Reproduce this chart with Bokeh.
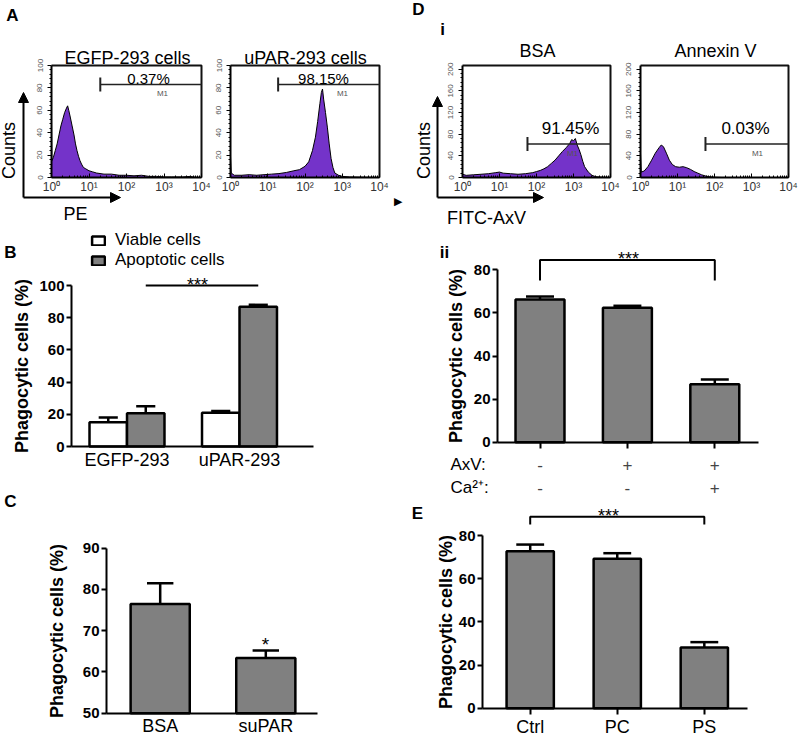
import math
from bokeh.plotting import figure
from bokeh.models import (FixedTicker, Label, Arrow, NormalHead, Legend, LegendItem, Range1d,
                          LinearAxis, LogAxis, LogScale, LinearScale)
from bokeh.embed import file_html
from bokeh.resources import INLINE

FONT = "Liberation Sans"
PURPLE = "#7433C9"
GREY = "#808080"

# ---------------- data ----------------
# Flow cytometry histograms: log10 fluorescence vs. counts
egfp_log = [0.00, 0.01, 0.05, 0.10, 0.15, 0.20, 0.25, 0.30, 0.35, 0.40, 0.43, 0.46, 0.50, 0.55,
            0.60, 0.64, 0.68, 0.72, 0.76, 0.80, 0.85, 0.90, 1.00, 1.10, 1.20, 1.40, 1.60, 1.80,
            2.00, 2.20, 2.40, 2.60, 2.80, 3.00, 3.20, 3.50, 3.70, 3.80, 4.00]
egfp_cnt = [52, 15, 18, 24, 30, 38, 46, 52, 58, 62, 64, 60, 54, 46,
            38, 30, 24, 19, 15, 12, 9, 8, 6, 5, 4, 3, 3, 2,
            2, 1.5, 2, 1, 1, 0.5, 0.5, 0.5, 1, 0.3, 0]
upar_log = [0.00, 0.02, 0.10, 0.30, 0.50, 0.70, 0.90, 1.10, 1.30, 1.50, 1.70, 1.85, 2.00, 2.10,
            2.20, 2.28, 2.34, 2.40, 2.44, 2.47, 2.50, 2.55, 2.60, 2.65, 2.70, 2.75, 2.80, 2.90,
            3.00, 3.20, 3.50, 4.00]
upar_cnt = [19, 4, 2, 2, 2.5, 2, 2.5, 3, 3.5, 4.5, 6, 7, 10, 14,
            24, 36, 50, 66, 76, 79, 70, 58, 45, 30, 17, 9, 4, 2,
            1, 0.5, 0.3, 0]
bsa_log = [0.00, 0.10, 0.30, 0.50, 0.70, 0.90, 1.00, 1.10, 1.30, 1.50, 1.70, 1.90, 2.00, 2.10,
           2.20, 2.30, 2.40, 2.50, 2.60, 2.70, 2.80, 2.90, 2.95, 3.00, 3.05, 3.10, 3.15, 3.20,
           3.25, 3.30, 3.40, 3.50, 3.60, 3.80, 4.00]
bsa_cnt = [6, 4, 5, 6, 7, 9, 10, 8, 7, 6, 7, 9, 11, 13,
           16, 20, 26, 32, 40, 48, 55, 63, 70, 68, 72, 60, 52, 42,
           30, 20, 10, 4, 1.5, 0.5, 0]
axv_log = [0.00, 0.02, 0.10, 0.20, 0.30, 0.40, 0.50, 0.56, 0.62, 0.70, 0.78, 0.86, 0.95, 1.05,
           1.15, 1.25, 1.35, 1.45, 1.55, 1.65, 1.75, 1.85, 2.00, 2.20, 4.00]
axv_cnt = [45, 10, 12, 20, 32, 45, 55, 60, 57, 45, 32, 24, 20, 19,
           20, 18, 15, 11, 8, 5, 3, 1.5, 0.5, 0, 0]

# M1 gates: (start fluorescence, level in counts)
gate_egfp = (20.0, 83)
gate_upar = (19.0, 83)
gate_bsa = (57.0, 62)
gate_axv = (57.0, 62)
pct_egfp, pct_upar, pct_bsa, pct_axv = "0.37%", "98.15%", "91.45%", "0.03%"

# B: phagocytosis of viable / apoptotic cells
b_groups = ["EGFP-293", "uPAR-293"]
b_viable = [15.0, 21.0]
b_viable_err = [3.0, 1.0]
b_apopt = [20.7, 86.8]
b_apopt_err = [4.3, 1.2]
b_sig_level = 100

# C
c_groups = ["BSA", "suPAR"]
c_vals = [76.5, 63.4]
c_err = [5.0, 1.8]

# D ii
d_vals = [66.2, 62.4, 26.9]
d_err = [1.4, 0.9, 2.2]
d_axv = ["-", "+", "+"]
d_ca = ["-", "-", "+"]
d_sig = (84.6, 75.0)

# E
e_groups = ["Ctrl", "PC", "PS"]
e_vals = [72.7, 69.2, 28.1]
e_err = [3.1, 2.6, 2.5]
e_sig = (88.7, 85.1)

# ---------------- canvas ----------------
W, H = 800, 740
p = figure(width=W, height=H, x_range=Range1d(0, W), y_range=Range1d(H, 0),
           x_axis_location=None, y_axis_location=None, min_border=0, title=None,
           output_backend="svg", toolbar_location=None)
p.outline_line_color = None
p.grid.visible = False
p.background_fill_color = "white"
p.border_fill_color = "white"

xr, yr, xs_ = {}, {}, {}


def panel(name, L, R, x0, x1, Bpx, Tpx, y0, y1, logx=False):
    """Register data ranges for a panel: (L -> x0, R -> x1), (Bpx -> y0, Tpx -> y1)."""
    if logx:
        a, b = math.log10(x0), math.log10(x1)
        s = (b - a) / (R - L)
        xr[name + "x"] = Range1d(10 ** (a - L * s), 10 ** (a + (W - L) * s))
        xs_[name + "x"] = LogScale()
    else:
        s = (x1 - x0) / (R - L)
        xr[name + "x"] = Range1d(x0 - L * s, x0 + (W - L) * s)
        xs_[name + "x"] = LinearScale()
    t = (y1 - y0) / (Bpx - Tpx)
    yr[name + "y"] = Range1d(y0 - (H - Bpx) * t, y0 + Bpx * t)
    return dict(x_range_name=name + "x", y_range_name=name + "y")


def lab(px, py, text, size, bold=False, align="center", angle=0.0, color="black"):
    p.add_layout(Label(x=px, y=py, text=text, text_font=FONT, text_font_size=f"{size}px",
                       text_font_style="bold" if bold else "normal", text_align=align,
                       text_baseline="middle", angle=angle, text_color=color))


def arrow(x0, y0, x1, y1):
    p.add_layout(Arrow(end=NormalHead(size=10, fill_color="black", line_color="black", line_width=1),
                       x_start=x0, y_start=y0, x_end=x1, y_end=y1, line_color="black", line_width=2))


DECADES = [1, 10, 100, 1000, 10000]
LOG_MINOR = [k * 10 ** d for d in range(4) for k in range(2, 10)]
SUP = {1: "10\u2070", 10: "10\u00b9", 100: "10\u00b2", 1000: "10\u00b3", 10000: "10\u2074"}


def hist(name, L, R, ymax, yticks, yminor, logs, cnts, gate):
    rn = panel(name, L, R, 1, 1e4, 177, 65, 0, ymax, logx=True)
    xs = [10 ** e for e in logs]
    p.varea(x=xs, y1=[0] * len(xs), y2=cnts, fill_color=PURPLE, **rn)
    p.line(x=xs, y=cnts, line_color="black", line_width=1, **rn)
    # box around the histogram (top and right edges of the plot area)
    p.line(x=[1, 1e4, 1e4], y=[ymax, ymax, 0], line_color="#111111", line_width=2, **rn)
    xa = LogAxis(fixed_location=0, bounds=(1, 1e4), **rn)
    xa.ticker = FixedTicker(ticks=DECADES, minor_ticks=LOG_MINOR)
    xa.major_label_overrides = SUP
    xa.major_label_text_font = FONT
    xa.major_label_text_font_size = "12px"
    xa.major_label_text_color = "#333333"
    xa.major_label_standoff = 2
    xa.major_tick_in, xa.major_tick_out = 4, 0
    xa.minor_tick_in, xa.minor_tick_out = 2, 0
    xa.axis_line_width = 2
    p.add_layout(xa, "below")
    ya = LinearAxis(fixed_location=1, bounds=(0, ymax), **rn)
    ya.ticker = FixedTicker(ticks=yticks, minor_ticks=yminor)
    ya.major_label_orientation = "vertical"
    ya.major_label_text_font = FONT
    ya.major_label_text_font_size = "8px"
    ya.major_label_text_color = "#555555"
    ya.major_label_standoff = 5
    ya.major_tick_in, ya.major_tick_out = 0, 4
    ya.minor_tick_in, ya.minor_tick_out = 0, 2
    ya.axis_line_width = 2
    p.add_layout(ya, "left")
    gx, gy = gate
    p.segment(x0=[gx], y0=[gy], x1=[1e4], y1=[gy], line_color="#222222", line_width=1.5, **rn)
    dy = 7 * ymax / 112
    p.segment(x0=[gx], y0=[gy - dy], x1=[gx], y1=[gy + dy], line_color="#222222", line_width=2, **rn)


# ---------------- panel A ----------------
hist("A1", 51, 201, 100, [0, 20, 40, 60, 80, 100], list(range(4, 100, 4)), egfp_log, egfp_cnt, gate_egfp)
hist("A2", 230, 379, 100, [0, 20, 40, 60, 80, 100], list(range(4, 100, 4)), upar_log, upar_cnt, gate_upar)
lab(12, 15, "A", 17, bold=True)
lab(127, 57, "EGFP-293 cells", 18)
lab(148, 78, pct_egfp, 15)
lab(162, 93, "M1", 8, color="#555555")
lab(8, 150, "Counts", 18, angle=math.pi / 2)
lab(75, 213, "PE", 18)
arrow(23, 197, 23, 92)
arrow(23, 197, 120, 197)
lab(305, 57, "uPAR-293 cells", 18)
lab(323, 78, pct_upar, 15)
lab(342, 93, "M1", 8, color="#555555")
lab(397, 200, "\u25b6", 11)

# ---------------- panel D i ----------------
hist("D1", 462, 610, 207, [0, 40, 80, 120, 160, 200], list(range(8, 207, 8)), bsa_log, bsa_cnt, gate_bsa)
hist("D2", 640, 788, 207, [0, 40, 80, 120, 160, 200], list(range(8, 207, 8)), axv_log, axv_cnt, gate_axv)
lab(418, 9, "D", 17, bold=True)
lab(442, 29, "i", 17, bold=True)
lab(537, 50, "BSA", 18)
lab(570, 128, pct_bsa, 17)
lab(572, 153, "M1", 8, color="#555555")
lab(423, 150, "Counts", 18, angle=math.pi / 2)
lab(486, 217, "FITC-AxV", 18)
arrow(437, 197, 437, 96)
arrow(437, 197, 543, 197)
lab(715, 50, "Annexin V", 18)
lab(745, 128, pct_axv, 17)
lab(757, 153, "M1", 8, color="#555555")


# ---------------- bar chart helpers ----------------
def bar_axes(rn, xb, yb, yticks, label_standoff, xticks, xlabels, xtick_out, xlabel_size):
    ya = LinearAxis(fixed_location=xb[0], bounds=yb, **rn)
    ya.ticker = FixedTicker(ticks=yticks)
    ya.axis_label = "Phagocytic cells (%)"
    ya.axis_label_text_font = FONT
    ya.axis_label_text_font_style = "bold"
    ya.axis_label_text_font_size = "18px"
    ya.axis_label_text_color = "black"
    ya.axis_label_standoff = label_standoff
    ya.major_label_text_font = FONT
    ya.major_label_text_font_style = "bold"
    ya.major_label_text_font_size = "15px"
    ya.major_label_text_color = "black"
    ya.major_label_standoff = 2
    ya.major_tick_out, ya.major_tick_in = 5, 0
    ya.minor_tick_out = ya.minor_tick_in = 0
    ya.axis_line_width = 2
    ya.major_tick_line_width = 2
    p.add_layout(ya, "left")
    xa = LinearAxis(fixed_location=yb[0], bounds=xb, **rn)
    xa.ticker = FixedTicker(ticks=xticks)
    xa.major_label_overrides = dict(zip(xticks, xlabels))
    xa.major_label_text_font = FONT
    xa.major_label_text_font_size = xlabel_size
    xa.major_label_text_color = "black"
    xa.major_label_standoff = 3
    xa.major_tick_out, xa.major_tick_in = xtick_out, 0
    xa.minor_tick_out = xa.minor_tick_in = 0
    xa.axis_line_width = 2
    xa.major_tick_line_width = 2
    p.add_layout(xa, "below")


def err_bars(rn, xs, vals, errs, half):
    tops = [v + e for v, e in zip(vals, errs)]
    p.segment(x0=xs, y0=vals, x1=xs, y1=tops, line_color="black", line_width=2.5, **rn)
    p.segment(x0=[x - half for x in xs], y0=tops, x1=[x + half for x in xs], y1=tops,
              line_color="black", line_width=2.5, **rn)


BAR_LW = 2.5

# ---------------- panel B ----------------
rB = panel("B", 71, 313, 0.5067, 2.6578, 446, 285, 0, 100)
bar_axes(rB, (0.5067, 2.6578), (0, 100), [0, 20, 40, 60, 80, 100], 4, [1, 2], b_groups, 0, "18px")
bx = [i + 1 for i in range(len(b_groups))]
bx_v = [x - 0.1667 for x in bx]
bx_a = [x + 0.1667 for x in bx]
rv = p.vbar(x=bx_v, top=b_viable, width=0.333, fill_color="white", line_color="black", line_width=BAR_LW, **rB)
ra = p.vbar(x=bx_a, top=b_apopt, width=0.333, fill_color=GREY, line_color="black", line_width=BAR_LW, **rB)
err_bars(rB, bx_v, b_viable, b_viable_err, 0.085)
err_bars(rB, bx_a, b_apopt, b_apopt_err, 0.085)
p.segment(x0=[bx_a[0]], y0=[b_sig_level], x1=[bx_a[1]], y1=[b_sig_level], line_color="black",
          line_width=2, **rB)
lab(10, 252, "B", 17, bold=True)
lab(197, 284, "***", 18)
legB = Legend(items=[LegendItem(label="Viable cells", renderers=[rv]),
                     LegendItem(label="Apoptotic cells", renderers=[ra])],
              location=(90, H - 270), glyph_width=16, glyph_height=11, label_standoff=9,
              label_text_font=FONT, label_text_font_size="17px", label_height=17,
              label_text_color="black",
              padding=0, margin=0, spacing=0, border_line_alpha=0, background_fill_alpha=0)
p.add_layout(legB)

# ---------------- panel C ----------------
rC = panel("C", 106, 317, 0.4915, 2.4896, 712.7, 547.7, 50, 90)
bar_axes(rC, (0.4915, 2.4896), (50, 90), [50, 60, 70, 80, 90], 13, [1, 2], c_groups, 0, "18px")
cx = [i + 1 for i in range(len(c_groups))]
p.vbar(x=cx, top=c_vals, bottom=50, width=0.56, fill_color=GREY, line_color="black", line_width=BAR_LW, **rC)
err_bars(rC, cx, c_vals, c_err, 0.125)
lab(10, 501, "C", 17, bold=True)
lab(265, 644, "*", 19)

# ---------------- panel D ii ----------------
rD = panel("D", 497, 758, 0.5137, 3.5, 441.7, 269.3, 0, 80)
bar_axes(rD, (0.5137, 3.5), (0, 80), [0, 20, 40, 60, 80], 5, [1, 2, 3], ["", "", ""], 6, "0px")
dx = [i + 1 for i in range(len(d_vals))]
p.vbar(x=dx, top=d_vals, width=0.56, fill_color=GREY, line_color="black", line_width=BAR_LW, **rD)
err_bars(rD, dx, d_vals, d_err, 0.16)
p.line(x=[dx[0], dx[0], dx[2], dx[2]], y=[d_sig[1], d_sig[0], d_sig[0], d_sig[1]],
       line_color="black", line_width=2, **rD)
lab(444, 252, "ii", 17, bold=True)
lab(628, 258, "***", 18)
lab(450, 464, "AxV:", 17, align="left")
lab(450, 487, "Ca\u00b2\u207a:", 17, align="left")
for x, s in zip(dx, d_axv):
    p.add_layout(Label(x=x, y=464, x_range_name="Dx", text=s, text_font=FONT, text_font_size="17px",
                       text_align="center", text_baseline="middle"))
for x, s in zip(dx, d_ca):
    p.add_layout(Label(x=x, y=487, x_range_name="Dx", text=s, text_font=FONT, text_font_size="17px",
                       text_align="center", text_baseline="middle"))

# ---------------- panel E ----------------
rE = panel("E", 482, 747, 0.452, 3.496, 707.7, 535, 0, 80)
bar_axes(rE, (0.452, 3.496), (0, 80), [0, 20, 40, 60, 80], 0, [1, 2, 3], e_groups, 6, "18px")
ex = [i + 1 for i in range(len(e_groups))]
p.vbar(x=ex, top=e_vals, width=0.543, fill_color=GREY, line_color="black", line_width=BAR_LW, **rE)
err_bars(rE, ex, e_vals, e_err, 0.16)
p.line(x=[ex[0], ex[0], ex[2], ex[2]], y=[e_sig[1], e_sig[0], e_sig[0], e_sig[1]],
       line_color="black", line_width=2, **rE)
lab(417, 513, "E", 17, bold=True)
lab(608, 515, "***", 18)

p.extra_x_ranges = xr
p.extra_y_ranges = yr
p.extra_x_scales = xs_

open("out.html", "w").write(file_html(p, INLINE))
